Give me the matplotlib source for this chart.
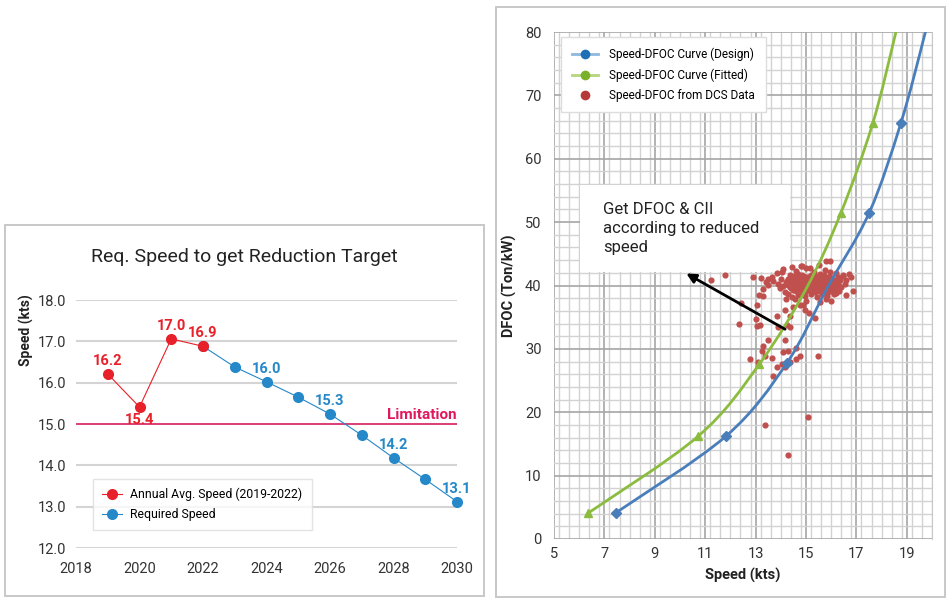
import numpy as np
import matplotlib
matplotlib.use("Agg")
import matplotlib.pyplot as plt
from matplotlib.lines import Line2D
from matplotlib.path import Path
from matplotlib.patches import PathPatch, Rectangle
from matplotlib.ticker import MultipleLocator

plt.rcParams['font.family'] = ['Roboto', 'DejaVu Sans']

# ---- left chart data ----
years_actual = [2019, 2020, 2021, 2022]
speed_actual = [16.21, 15.41, 17.06, 16.88]
labels_actual = ['16.2', '15.4', '17.0', '16.9']
years_required = [2022, 2023, 2024, 2025, 2026, 2027, 2028, 2029, 2030]
speed_required = [16.88, 16.38, 16.02, 15.65, 15.24, 14.73, 14.18, 13.66, 13.12]
labels_required = {2024: '16.0', 2026: '15.3', 2028: '14.2', 2030: '13.1'}
limitation = 15.0

# ---- right chart data ----
design_speed = [7.46, 11.83, 14.23, 15.84, 17.51, 18.77, 19.75, 20.6]
design_dfoc = [4.15, 16.25, 27.7, 39.6, 51.5, 65.7, 80.2, 94.0]
fitted_speed = [6.34, 10.73, 13.15, 15.02, 16.38, 17.65, 18.58, 19.4]
fitted_dfoc = [4.05, 16.25, 27.6, 39.6, 51.4, 65.6, 80.2, 94.0]
marker_idx = [0, 1, 2, 4, 5]   # visible markers (others hidden in cluster / off chart)

dcs_speed = [
    # outliers
    11.22, 11.80, 12.35, 12.41, 13.04, 13.03, 13.05, 13.17, 12.77, 13.11,
    13.25, 13.38, 13.64, 13.70, 13.86, 14.03, 14.17, 14.35, 14.60, 14.77,
    15.46, 14.15, 14.10, 14.30, 14.60, 13.37, 15.09, 14.30, 13.50, 13.28,
    13.90, 14.25, 14.35, 13.86, 14.17, 14.35, 14.75, 14.95, 15.10, 15.37,
    15.80, 16.00, 16.20, 16.60, 16.85, 16.80, 16.45, 15.80, 15.00, 14.85,
    13.40, 13.50, 13.20, 12.90, 13.30, 13.50, 13.15, 13.30, 14.50, 14.90,
    # core
    14.35, 14.52, 14.70, 14.86, 15.02, 15.20, 15.37, 15.55, 15.71, 15.88,
    14.44, 14.60, 14.78, 14.95, 15.12, 15.28, 15.46, 15.63, 15.80, 15.97,
    14.28, 14.44, 14.61, 14.77, 14.93, 15.09, 15.26, 15.42, 15.58, 15.75, 15.93, 16.08,
    14.30, 14.47, 14.63, 14.80, 14.97, 15.14, 15.31, 15.48, 15.65, 15.82, 15.99, 16.15,
    14.22, 14.39, 14.55, 14.71, 14.88, 15.04, 15.21, 15.36, 15.53, 15.69, 15.86, 16.02, 16.18,
    14.25, 14.42, 14.58, 14.75, 14.92, 15.08, 15.25, 15.42, 15.58, 15.75, 15.91, 16.07, 16.25,
    14.30, 14.47, 14.63, 14.80, 14.96, 15.13, 15.29, 15.46, 15.62, 15.79, 15.95, 16.11,
    14.36, 14.52, 14.69, 14.86, 15.02, 15.19, 15.36, 15.52, 15.69, 15.85, 16.02, 16.20,
    14.40, 14.57, 14.74, 14.90, 15.06, 15.23, 15.40, 15.56, 15.73, 15.89, 16.05,
    14.50, 14.68, 14.86, 15.04, 15.22, 15.40, 15.58, 15.76, 15.95, 16.12,
    14.62, 14.83, 15.00, 15.18, 15.35, 15.52, 15.70, 15.88, 16.04,
    # ring
    14.10, 14.45, 14.80, 15.15, 15.50, 15.75, 15.95, 14.60, 15.30,
    13.85, 14.05, 15.95, 16.20, 16.45, 16.70, 13.65,
    13.70, 13.90, 14.00, 13.95, 14.10, 14.15, 14.30, 14.45, 14.70, 14.95,
    15.20, 15.45, 15.65, 15.85, 16.10, 16.30, 16.40, 16.55, 16.35, 16.60,
    16.25, 14.55, 15.00, 15.55, 14.20,
]
dcs_dfoc = [
    # outliers
    40.9, 41.6, 33.9, 37.2, 36.9, 34.7, 33.6, 33.8, 28.4, 28.0,
    29.6, 28.8, 28.6, 25.7, 27.2, 27.6, 27.2, 28.0, 28.4, 28.8,
    28.8, 31.4, 29.5, 29.7, 30.1, 18.0, 19.2, 13.3, 31.4, 30.5,
    33.5, 33.8, 33.5, 35.2, 36.1, 35.2, 37.0, 36.2, 35.6, 34.8,
    37.8, 37.5, 38.8, 38.5, 39.1, 41.3, 41.5, 43.8, 42.7, 43.0,
    40.6, 41.0, 41.2, 41.4, 39.4, 40.1, 38.5, 38.3, 36.6, 36.9,
    # core
    41.7, 41.5, 41.8, 41.6, 41.4, 41.7, 41.5, 41.8, 41.6, 41.4,
    41.3, 41.4, 41.2, 41.4, 41.3, 41.2, 41.4, 41.3, 41.2, 41.4,
    41.0, 41.2, 40.9, 41.1, 41.3, 41.0, 41.2, 40.9, 41.1, 41.0, 41.2, 40.9,
    40.8, 40.9, 40.8, 40.9, 40.8, 40.8, 40.9, 40.8, 40.9, 40.8, 40.9, 40.8,
    40.5, 40.7, 40.6, 40.4, 40.7, 40.5, 40.6, 40.8, 40.4, 40.6, 40.7, 40.5, 40.6,
    40.3, 40.4, 40.3, 40.4, 40.3, 40.4, 40.3, 40.4, 40.3, 40.4, 40.3, 40.4, 40.3,
    40.1, 40.0, 40.2, 39.9, 40.1, 40.2, 40.0, 40.1, 39.9, 40.2, 40.0, 40.1,
    39.8, 39.9, 39.8, 39.9, 39.8, 39.9, 39.8, 39.9, 39.8, 39.9, 39.8, 39.9,
    39.6, 39.5, 39.7, 39.6, 39.4, 39.6, 39.7, 39.5, 39.6, 39.4, 39.7,
    39.3, 39.4, 39.3, 39.4, 39.3, 39.4, 39.3, 39.4, 39.3, 39.4,
    39.1, 39.0, 39.2, 39.1, 38.9, 39.1, 39.2, 39.0, 39.1,
    # ring
    42.6, 42.9, 43.1, 42.7, 43.2, 42.5, 43.8, 42.3, 42.2,
    41.9, 42.2, 42.1, 41.9, 41.6, 41.8, 41.4,
    40.7, 40.3, 41.0, 39.6, 39.9, 38.9, 38.6, 38.2, 38.5, 38.3,
    38.6, 38.2, 38.7, 38.4, 38.6, 39.2, 39.8, 40.3, 40.8, 40.9,
    41.3, 37.8, 37.6, 37.4, 37.9,
]

RED = '#e8202a'
BLUE = '#2588c8'
LIMIT = '#e0185c'


def smooth_path(xs, ys):
    # Catmull-Rom spline through the points, expressed as cubic Bezier segments
    pts = np.column_stack([xs, ys])
    n = len(pts)
    verts = [pts[0]]
    codes = [Path.MOVETO]
    for i in range(n - 1):
        p0 = pts[max(i - 1, 0)]
        p1 = pts[i]
        p2 = pts[i + 1]
        p3 = pts[min(i + 2, n - 1)]
        verts += [p1 + (p2 - p0) / 6.0, p2 - (p3 - p1) / 6.0, p2]
        codes += [Path.CURVE4] * 3
    return Path(verts, codes)


fig = plt.figure(figsize=(9.5, 6.02), dpi=100)
W, H = 950.0, 602.0

# panel frames
fig.patches.append(Rectangle((5 / W, 1 - 596 / H), 479 / W, 371 / H, transform=fig.transFigure,
                             fill=False, edgecolor='#c8c8c8', linewidth=1.4))
fig.patches.append(Rectangle((496 / W, 1 - 597 / H), 449 / W, 590 / H, transform=fig.transFigure,
                             fill=False, edgecolor='#c8c8c8', linewidth=1.4))

# ---------------- left chart ----------------
ax1 = fig.add_axes([76 / W, 1 - 548 / H, 381 / W, 248 / H])
ax1.set_xlim(2018, 2030)
ax1.set_ylim(12, 18)
ax1.set_xticks(range(2018, 2031, 2))
ax1.set_yticks(np.arange(12, 18.1, 1))
ax1.set_yticklabels(['%.1f' % v for v in np.arange(12, 18.1, 1)])
ax1.grid(axis='y', color='#d4d4d4', linewidth=1.5)
ax1.set_axisbelow(True)
for s in ax1.spines.values():
    s.set_visible(False)
ax1.tick_params(length=0, labelsize=10.5, colors='#333333')
ax1.tick_params(axis='y', pad=7)
ax1.tick_params(axis='x', pad=10)

ax1.axhline(limitation, color=LIMIT, linewidth=1.1, zorder=2)
ax1.text(2030, limitation + 0.06, 'Limitation', color=LIMIT, fontsize=11, fontweight='bold',
         ha='right', va='bottom')

ax1.plot(years_required, speed_required, color=BLUE, linewidth=0.8, marker='o',
         markersize=8, markeredgewidth=0, label='Required Speed', zorder=3, clip_on=False)
ax1.plot(years_actual, speed_actual, color=RED, linewidth=0.8, marker='o',
         markersize=8, markeredgewidth=0, label='Annual Avg. Speed (2019-2022)', zorder=4,
         clip_on=False)

for x, y, t in zip(years_actual, speed_actual, labels_actual):
    dy = -9.5 if t == '15.4' else 9.5
    ax1.annotate(t, (x, y), xytext=(0, dy), textcoords='offset points', ha='center',
                 va='center', color=RED, fontsize=10.5, fontweight='bold')
for x, y in zip(years_required, speed_required):
    if x in labels_required:
        ax1.annotate(labels_required[x], (x, y), xytext=(0, 9.5), textcoords='offset points',
                     ha='center', va='center', color=BLUE, fontsize=10.5, fontweight='bold')

h, l = ax1.get_legend_handles_labels()
leg1 = ax1.legend(h[::-1], l[::-1], loc='lower left', bbox_to_anchor=(0.045, 0.072),
                  borderaxespad=0, fontsize=8.8, frameon=True, fancybox=False,
                  edgecolor='#dddddd', handlelength=1.6, labelspacing=0.55,
                  borderpad=0.75, handletextpad=0.7)
leg1.get_frame().set_linewidth(1.0)

fig.text(244.5 / W, 1 - 257 / H, 'Req. Speed to get Reduction Target', ha='center',
         va='center', fontsize=14, color='#222222')
fig.text(26 / W, 1 - 330 / H, 'Speed (kts)', rotation=90, ha='center', va='center',
         fontsize=10, fontweight='bold', color='#222222')

# ---------------- right chart ----------------
ax2 = fig.add_axes([554 / W, 1 - 539 / H, 378 / W, 507 / H])
ax2.set_xlim(5, 20)
ax2.set_ylim(0, 80)
ax2.set_xticks(range(5, 20, 2))
ax2.set_yticks(range(0, 81, 10))
ax2.xaxis.set_minor_locator(MultipleLocator(0.4))
ax2.yaxis.set_minor_locator(MultipleLocator(2))
ax2.grid(which='major', color='#a6a6a6', linewidth=1.2)
ax2.grid(which='minor', color='#d2d2d2', linewidth=1.0)
ax2.set_axisbelow(True)
for s in ax2.spines.values():
    s.set_visible(False)
ax2.spines['right'].set_visible(True)
ax2.spines['right'].set_color('#c8c8c8')
ax2.tick_params(which='both', length=0, labelsize=10.5, colors='#333333')
ax2.tick_params(axis='y', pad=9)
ax2.tick_params(axis='x', pad=6)
ax2.set_xlabel('Speed (kts)', fontsize=10.5, fontweight='bold', color='#222222', labelpad=5)
ax2.set_ylabel('DFOC (Ton/kW)', fontsize=10.5, fontweight='bold', color='#222222', labelpad=6)

# annotation box
ax2.add_patch(Rectangle((6.03, 42.2), 8.34, 13.7, facecolor='white', edgecolor='none',
                        zorder=1.5))
ax2.text(6.95, 49.0, 'Get DFOC & CII\naccording to reduced\nspeed', fontsize=12,
         color='#222222', ha='left', va='center', linespacing=1.35, zorder=1.6)

ax2.scatter(dcs_speed, dcs_dfoc, s=20, color='#c0504d', linewidths=0, zorder=2)

ax2.add_patch(PathPatch(smooth_path(design_speed, design_dfoc), fill=False,
                        edgecolor='#4a7ebb', linewidth=2.0, zorder=3))
ax2.add_patch(PathPatch(smooth_path(fitted_speed, fitted_dfoc), fill=False,
                        edgecolor='#8cbc3f', linewidth=2.0, zorder=3))
ax2.plot([design_speed[i] for i in marker_idx], [design_dfoc[i] for i in marker_idx],
         linestyle='none', marker='D', markersize=5, color='#4a7ebb', zorder=3.5)
ax2.plot([fitted_speed[i] for i in marker_idx], [fitted_dfoc[i] for i in marker_idx],
         linestyle='none', marker='^', markersize=6, color='#8cbc3f', zorder=3.5)

ax2.annotate('', xy=(10.25, 41.9), xytext=(14.17, 33.1),
             arrowprops=dict(arrowstyle='-|>', color='black', lw=2, mutation_scale=14,
                             shrinkA=0, shrinkB=0), zorder=4)

handles = [
    Line2D([], [], color='#8fb8e0', linewidth=2, marker='o', markersize=7,
           markerfacecolor='#1f6fb5', markeredgewidth=0),
    Line2D([], [], color='#b5d67f', linewidth=2, marker='o', markersize=7,
           markerfacecolor='#7bb02a', markeredgewidth=0),
    Line2D([], [], linestyle='none', marker='o', markersize=7,
           markerfacecolor='#b53b3b', markeredgewidth=0),
]
labels = ['Speed-DFOC Curve (Design)', 'Speed-DFOC Curve (Fitted)', 'Speed-DFOC from DCS Data']
leg2 = ax2.legend(handles, labels, loc='upper left', bbox_to_anchor=(0.0185, 0.99),
                  borderaxespad=0, fontsize=8.5, frameon=True, fancybox=False,
                  edgecolor='#dddddd', framealpha=1, handlelength=2.2, labelspacing=0.6,
                  borderpad=0.9, handletextpad=1.0)
leg2.set_zorder(5)

fig.savefig('out.png', dpi=100)
